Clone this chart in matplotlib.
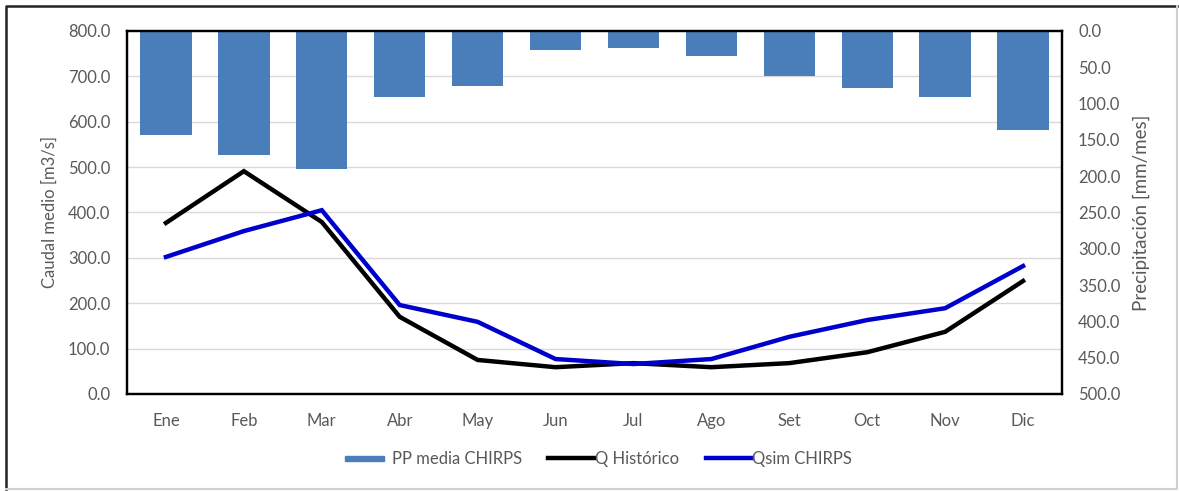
import matplotlib.pyplot as plt
from matplotlib.patches import Rectangle
from matplotlib.lines import Line2D
from matplotlib.legend_handler import HandlerPatch

# Datos mensuales
meses = ['Ene', 'Feb', 'Mar', 'Abr', 'May', 'Jun', 'Jul', 'Ago', 'Set', 'Oct', 'Nov', 'Dic']
pp_chirps = [143, 171, 190, 91, 76, 26, 23, 34, 62, 78, 91, 136]
q_historico = [377, 491, 379, 170, 75, 59, 68, 59, 68, 92, 137, 249]
qsim_chirps = [302, 359, 405, 196, 159, 77, 66, 77, 126, 163, 189, 282]

plt.rcParams['font.family'] = ['Lato', 'DejaVu Sans']
gris = '#595959'
azul_barra = '#4A7EBB'
q_ticks = list(range(0, 801, 100))
pp_ticks = list(range(0, 501, 50))

fig = plt.figure(figsize=(11.79, 4.91), dpi=100)
ax = fig.add_axes([0.1077, 0.1976, 0.7931, 0.7393])
ax2 = ax.twinx()

x = range(len(meses))

# Precipitación (eje derecho invertido), con la grilla del eje izquierdo debajo
for v in q_ticks[1:-1]:
    ax2.axhline((800 - v) * 500 / 800, color='#d9d9d9', lw=1, zorder=1)
ax2.bar(x, pp_chirps, width=0.66, color=azul_barra, zorder=2)
ax2.set_ylim(500, 0)
ax2.set_yticks(pp_ticks)
ax2.set_yticklabels([f'{v:.1f}' for v in pp_ticks])
ax2.set_ylabel('Precipitación [mm/mes]', color=gris, fontsize=13.5, labelpad=9)

# Caudales (eje izquierdo)
l_hist, = ax.plot(x, q_historico, color='black', lw=3.2, zorder=3, solid_joinstyle='miter')
l_sim, = ax.plot(x, qsim_chirps, color='#0000CC', lw=3.2, zorder=3, solid_joinstyle='miter')
ax.set_ylim(0, 800)
ax.set_xlim(-0.5, 11.5)
ax.set_yticks(q_ticks)
ax.set_yticklabels([f'{v:.1f}' for v in q_ticks])
ax.set_xticks(list(x))
ax.set_xticklabels(meses)
ax.set_ylabel('Caudal medio [m3/s]', color=gris, fontsize=12, labelpad=7)

ax.set_zorder(ax2.get_zorder() + 1)
ax.patch.set_visible(False)

for a in (ax, ax2):
    a.tick_params(length=0, colors=gris, labelsize=12)
    for s in a.spines.values():
        s.set_color('black')
        s.set_linewidth(1.6)
ax.tick_params(axis='x', pad=14)
ax.tick_params(axis='y', pad=12)
ax2.tick_params(axis='y', pad=11.5)


# Rectángulo delgado para la barra en la leyenda
def barra_leyenda(legend, orig_handle, xdescent, ydescent, width, height, fontsize):
    h = height * 0.45
    return Rectangle((-xdescent, -ydescent + (height - h) / 2), width * 0.86, h)


barra_proxy = Rectangle((0, 0), 1, 1, color=azul_barra)
fig.legend([barra_proxy, l_hist, l_sim], ['PP media CHIRPS', 'Q Histórico', 'Qsim CHIRPS'],
           loc='center', bbox_to_anchor=(0.5077, 0.065), ncol=3,
           frameon=False, fontsize=12, labelcolor=gris, handlelength=2.75,
           handletextpad=0.05, columnspacing=1.6,
           handler_map={barra_proxy: HandlerPatch(patch_func=barra_leyenda)})

# Marco exterior: oscuro arriba e izquierda, gris claro abajo y derecha
x0, x1, y0, y1 = 0.005, 0.9985, 0.004, 0.988
fig.add_artist(Line2D([x0, x0, x1], [y0, y1, y1], transform=fig.transFigure,
                      color='#222222', lw=1.8))
fig.add_artist(Line2D([x0, x1, x1], [y0, y0, y1], transform=fig.transFigure,
                      color='#d0d0d0', lw=1.5))

fig.savefig('out.png', dpi=100)
